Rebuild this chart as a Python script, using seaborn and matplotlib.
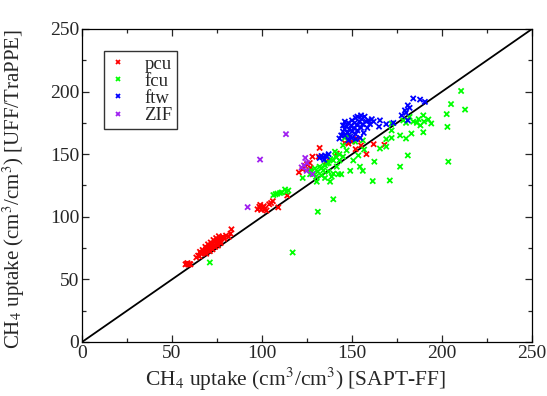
import numpy as np
import pandas as pd
import matplotlib
matplotlib.use("Agg")
import matplotlib.pyplot as plt
import seaborn as sns
from matplotlib.ticker import MultipleLocator

# ---- data ----
pcu_x = [57.5, 58.2, 59.0, 59.8, 58.6, 60.2,
         63.5, 64.5, 65.2, 66.0, 66.8, 67.5, 68.2, 68.8, 69.5, 70.1, 70.8, 71.4, 72.0, 72.6,
         73.2, 73.8, 74.4, 75.0, 75.6, 76.2, 76.8, 77.5, 78.2, 79.0, 80.0, 81.5, 83.0, 82.5,
         65.5, 67.0, 68.5, 70.0, 71.5, 73.0, 74.5, 76.0, 69.0, 72.5, 75.5, 71.0, 74.0, 77.0,
         97.5, 98.5, 99.5, 100.5, 101.5, 102.5, 99.0, 101.0, 104.0, 105.0, 106.0, 109.0, 114.0,
         120.5, 122.5, 124.0, 125.0, 126.5, 127.0, 128.0, 131.5, 132.0, 135.5, 141.5, 146.0,
         148.0, 152.0, 155.0, 158.0, 162.0, 168.0, 150.0, 153.0]
pcu_y = [62.0, 62.5, 61.8, 62.3, 63.0, 62.0,
         67.5, 69.0, 68.5, 70.5, 71.0, 72.5, 71.5, 74.0, 73.0, 75.5, 74.5, 77.0, 76.0, 78.5,
         77.0, 80.0, 78.5, 81.0, 79.5, 82.0, 80.5, 83.0, 84.0, 82.5, 85.0, 84.0, 90.0, 86.5,
         72.0, 73.5, 76.0, 78.0, 79.5, 81.5, 83.0, 84.5, 70.5, 74.0, 77.0, 72.5, 76.0, 79.0,
         106.0, 108.0, 105.5, 107.5, 106.0, 105.0, 109.5, 108.5, 110.0, 111.0, 112.5, 107.5, 117.0,
         135.5, 138.0, 140.5, 142.0, 143.0, 139.0, 148.0, 148.0, 155.0, 144.0, 150.5, 159.0,
         158.5, 154.0, 157.0, 150.0, 158.0, 157.5, 160.0, 162.0]

fcu_x = [71.0, 117.0, 131.0, 139.6,
         106.3, 107.5, 108.5, 110.0, 111.0, 112.8, 114.6, 113.5,
         122.6, 126.7, 128.5, 129.4, 130.4, 131.0, 132.0, 134.0, 136.0, 136.9, 137.8, 138.7,
         139.6, 139.6, 140.5, 141.5, 142.4, 143.0, 144.0, 145.0, 145.0, 147.0, 149.0, 150.7,
         151.7, 153.5, 154.4, 156.0, 156.7, 156.0, 127.0, 133.0, 135.0, 137.0, 138.0, 141.0,
         143.0, 146.0, 148.0, 130.0, 133.0, 135.0,
         161.5, 162.4, 165.5, 169.0, 169.0, 171.0, 172.0, 172.0, 172.0, 176.7, 176.7, 178.5,
         180.0, 181.0, 182.0, 183.0, 186.0, 187.0, 188.0, 189.6, 189.6, 190.0, 192.4, 194.0,
         202.6, 203.0, 203.5, 205.0, 210.6, 212.8, 184.0, 180.0]
fcu_y = [63.5, 71.5, 104.0, 114.0,
         117.3, 118.0, 118.5, 119.0, 119.5, 121.8, 121.0, 120.0,
         131.0, 134.0, 134.6, 138.6, 128.0, 136.0, 140.0, 137.0, 142.5, 136.0, 128.0, 132.0,
         134.5, 145.0, 152.0, 140.0, 134.0, 145.0, 134.0, 148.0, 157.0, 153.0, 136.7, 145.0,
         160.0, 149.0, 140.0, 161.0, 153.7, 136.7, 137.0, 139.0, 141.0, 143.0, 146.0, 148.0,
         150.0, 163.0, 165.0, 132.0, 133.0, 131.0,
         128.5, 144.0, 154.5, 156.0, 162.0, 129.0, 163.0, 169.0, 174.5, 140.0, 165.0, 177.0,
         162.5, 149.0, 179.8, 166.5, 175.0, 178.0, 173.0, 181.0, 167.5, 176.0, 177.7, 174.5,
         182.0, 171.8, 144.0, 190.0, 200.5, 185.6, 176.0, 175.0]

ftw_x = [132.0, 133.0, 134.0, 135.0, 136.0, 134.5, 137.0,
         143.0, 144.0, 145.0, 146.0, 146.0, 147.0, 147.5, 148.0, 148.5, 149.0, 149.5, 150.0,
         150.0, 151.0, 151.5, 152.0, 152.0, 153.0, 153.0, 154.0, 154.5, 155.0, 155.5, 156.0,
         156.5, 157.0, 158.0, 158.5, 159.0, 160.0, 161.0, 162.0, 148.0, 150.0, 152.0, 145.0,
         146.0, 155.0, 153.0,
         165.5, 165.0, 169.0, 173.0, 181.0, 177.6, 179.4, 180.0, 181.0, 182.0, 184.0, 187.8, 190.5]
ftw_y = [147.0, 148.5, 147.5, 149.0, 148.0, 145.5, 150.0,
         162.5, 165.0, 168.0, 170.0, 165.0, 172.0, 167.0, 175.0, 170.0, 164.0, 173.0, 177.0,
         168.0, 171.0, 175.0, 166.0, 179.0, 173.0, 169.0, 176.0, 163.0, 171.0, 178.0, 174.0,
         167.0, 180.0, 176.0, 171.0, 177.0, 174.0, 178.0, 176.0, 161.0, 163.0, 162.0, 173.0,
         176.0, 181.0, 180.0,
         177.0, 172.0, 174.0, 175.0, 177.0, 181.0, 185.0, 183.0, 189.0, 187.0, 194.5, 193.6, 191.8]

zif_x = [92.0, 98.9, 113.3, 122.0, 124.0, 123.3, 124.8, 128.0, 125.0]
zif_y = [107.7, 145.7, 166.0, 139.4, 147.0, 141.0, 136.7, 134.0, 143.0]

labels = ["pcu", "fcu", "ftw", "ZIF"]
colors = ["#ff0000", "#00ff00", "#0000ff", "#a020f0"]

df = pd.concat([
    pd.DataFrame({"x": pcu_x, "y": pcu_y, "net": "pcu"}),
    pd.DataFrame({"x": fcu_x, "y": fcu_y, "net": "fcu"}),
    pd.DataFrame({"x": ftw_x, "y": ftw_y, "net": "ftw"}),
    pd.DataFrame({"x": zif_x, "y": zif_y, "net": "ZIF"}),
], ignore_index=True)

sns.set_style("ticks")
plt.rcParams["font.family"] = ["Liberation Serif", "DejaVu Serif"]
plt.rcParams["mathtext.fontset"] = "stix"

fig = plt.figure(figsize=(5.47, 3.96), dpi=100)
ax = fig.add_axes([0.15, 0.1364, 0.8226, 0.7904])

ax.plot([0, 250], [0, 250], color="black", lw=1.3, zorder=1)
sns.scatterplot(data=df, x="x", y="y", hue="net", hue_order=labels,
                palette=dict(zip(labels, colors)), marker="x", s=14,
                linewidth=1.3, ax=ax, zorder=2)

ax.set_xlim(0, 250)
ax.set_ylim(0, 250)
ax.xaxis.set_major_locator(MultipleLocator(50))
ax.xaxis.set_minor_locator(MultipleLocator(25))
ax.yaxis.set_major_locator(MultipleLocator(50))
ax.yaxis.set_minor_locator(MultipleLocator(25))
ax.tick_params(which="both", direction="in", top=True, right=True, labelsize=14, width=0.9)
ax.tick_params(which="major", length=5, pad=2)
ax.tick_params(which="minor", length=3)
for s in ax.spines.values():
    s.set_linewidth(0.9)
    s.set_color("black")

ax.set_xlabel(r"CH$_4$ uptake (cm$^3$/cm$^3$) [SAPT-FF]", fontsize=15.5)
ax.set_ylabel(r"CH$_4$ uptake (cm$^3$/cm$^3$) [UFF/TraPPE]", fontsize=15)
ax.xaxis.set_label_coords(0.475, -0.075)
ax.yaxis.set_label_coords(-0.122, 0.49)

leg = ax.legend(loc="upper left", bbox_to_anchor=(0.049, 0.93), borderaxespad=0,
                frameon=True, fancybox=False, edgecolor="black", fontsize=13.5,
                handletextpad=0.9, borderpad=0.25, labelspacing=0.0,
                handlelength=1.0, markerscale=0.9)
leg.get_frame().set_linewidth(1.0)

fig.savefig("out.png", dpi=100)
